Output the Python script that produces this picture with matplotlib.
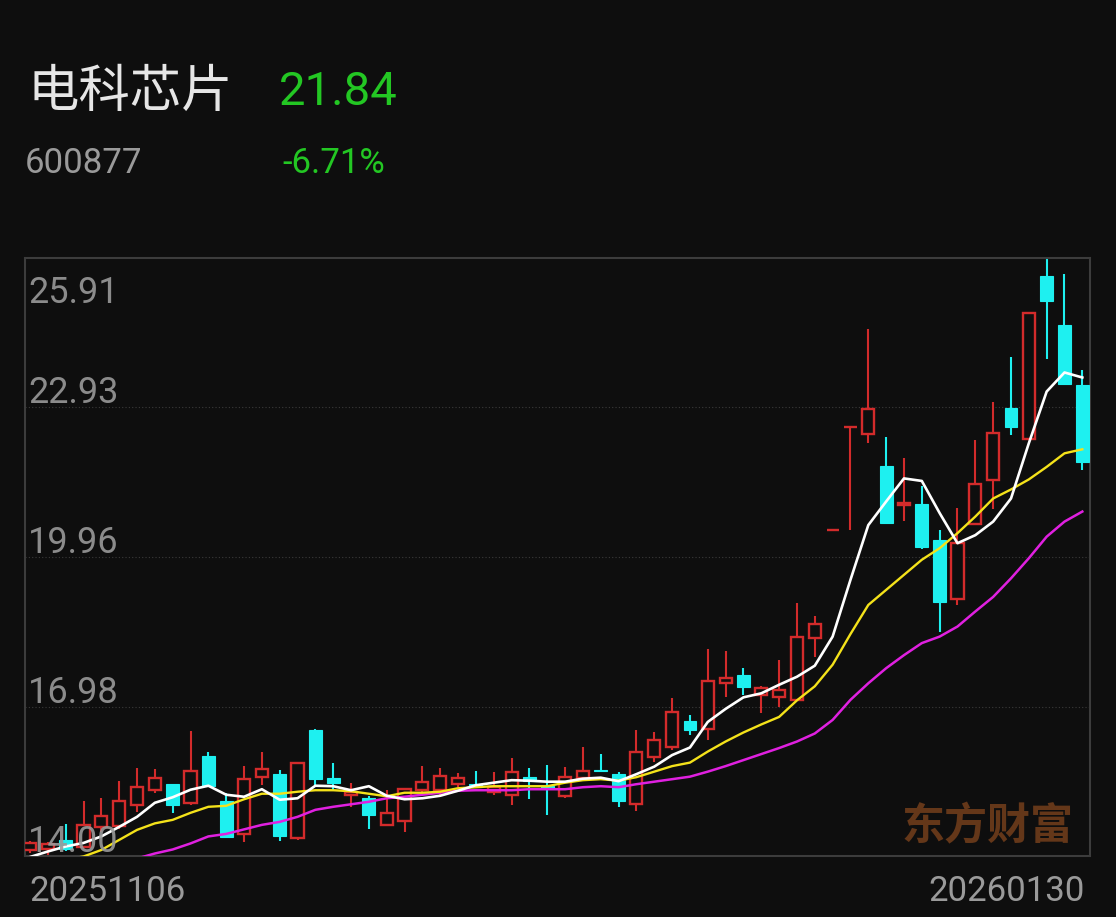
import numpy as np
import matplotlib
matplotlib.use("Agg")
import matplotlib.pyplot as plt
import matplotlib.transforms as mtransforms

# 头部信息
stock_name = "电科芯片"
stock_code = "600877"
last_price = "21.84"
pct_change = "-6.71%"
start_date = "20251106"
end_date = "20260130"
watermark = "东方财富"

# 日K数据 (20251106 - 20260130, 60 个交易日)
opens = [14.11, 14.14, 14.32, 14.18, 14.57, 14.60, 15.02, 15.31, 15.43, 15.05,
         15.99, 15.10, 14.44, 15.57, 15.63, 14.35, 16.51, 15.55, 15.22, 15.15,
         14.61, 14.70, 15.31, 15.31, 15.43, 15.43, 15.28, 15.22, 15.58, 15.39,
         15.20, 15.56, 15.71, 15.63, 15.04, 15.98, 16.17, 16.69, 16.52, 17.44,
         17.61, 17.21, 17.17, 17.11, 18.34, 20.49, 22.54, 22.40, 21.77, 20.99,
         21.02, 20.29, 19.11, 20.61, 21.49, 22.92, 22.30, 25.55, 24.58, 23.38]
highs = [14.30, 14.28, 14.64, 15.10, 15.15, 15.49, 15.75, 15.73, 15.44, 16.49,
         16.07, 15.25, 15.79, 16.07, 15.71, 15.85, 16.52, 15.86, 15.46, 15.20,
         15.31, 15.34, 15.79, 15.75, 15.65, 15.69, 15.68, 15.95, 15.75, 15.81,
         15.78, 16.18, 16.03, 15.68, 16.51, 16.46, 17.14, 16.81, 18.12, 18.09,
         17.74, 17.38, 17.90, 19.03, 18.77, 20.49, 22.54, 24.50, 22.34, 21.92,
         21.36, 20.49, 20.94, 22.29, 23.05, 23.93, 24.81, 25.91, 25.59, 23.68]
lows = [14.06, 14.00, 14.10, 14.16, 14.48, 14.53, 14.88, 15.25, 14.86, 15.02,
        15.38, 14.35, 14.27, 15.41, 14.30, 14.32, 15.41, 15.30, 14.97, 14.53,
        14.59, 14.48, 15.25, 15.22, 15.37, 15.37, 15.22, 15.02, 15.13, 14.81,
        15.15, 15.51, 15.67, 14.98, 14.90, 15.88, 16.11, 16.41, 16.31, 17.17,
        17.21, 16.84, 16.97, 17.10, 17.97, 20.49, 20.49, 22.22, 20.61, 20.68,
        20.11, 18.47, 19.00, 20.60, 20.91, 22.39, 22.30, 23.89, 23.40, 21.69]
closes = [14.25, 14.24, 14.13, 14.62, 14.80, 15.10, 15.38, 15.56, 15.02, 15.70,
          15.39, 14.37, 15.53, 15.73, 14.40, 15.85, 15.53, 15.45, 15.28, 14.82,
          14.85, 15.33, 15.47, 15.59, 15.55, 15.38, 15.38, 15.67, 15.50, 15.35,
          15.57, 15.70, 15.70, 15.10, 16.08, 16.32, 16.87, 16.51, 17.49, 17.55,
          17.37, 17.34, 17.31, 18.37, 18.63, 20.49, 22.54, 22.90, 20.63, 21.04,
          20.16, 19.05, 20.23, 21.40, 22.42, 22.55, 24.81, 25.06, 23.41, 21.84]

# 均线 (从图上读取, 低于 14.00 的部分被裁掉)
ma5 = [13.98, 14.09, 14.19, 14.26, 14.39, 14.58, 14.78, 15.06, 15.17, 15.32,
       15.40, 15.22, 15.18, 15.33, 15.12, 15.15, 15.40, 15.39, 15.31, 15.39,
       15.20, 15.13, 15.15, 15.20, 15.30, 15.41, 15.46, 15.51, 15.50, 15.48,
       15.48, 15.54, 15.56, 15.49, 15.63, 15.78, 16.01, 16.16, 16.67, 16.93,
       17.16, 17.24, 17.41, 17.57, 17.79, 18.37, 19.50, 20.59, 21.06, 21.52,
       21.47, 20.83, 20.23, 20.39, 20.66, 21.12, 22.22, 23.25, 23.63, 23.53]
ma10 = [13.80, 13.86, 13.93, 13.99, 14.12, 14.32, 14.52, 14.65, 14.72, 14.86,
        14.98, 15.00, 15.13, 15.24, 15.24, 15.28, 15.31, 15.31, 15.29, 15.24,
        15.19, 15.26, 15.26, 15.28, 15.35, 15.37, 15.39, 15.39, 15.39, 15.39,
        15.46, 15.51, 15.53, 15.50, 15.57, 15.68, 15.79, 15.86, 16.08, 16.28,
        16.46, 16.62, 16.77, 17.10, 17.38, 17.81, 18.42, 19.00, 19.30, 19.60,
        19.90, 20.13, 20.43, 20.76, 21.12, 21.30, 21.50, 21.75, 22.02, 22.10]
ma20 = [13.66, 13.71, 13.76, 13.80, 13.85, 13.89, 13.95, 14.05, 14.13, 14.25,
        14.39, 14.44, 14.53, 14.62, 14.68, 14.78, 14.92, 14.98, 15.03, 15.08,
        15.15, 15.18, 15.22, 15.26, 15.30, 15.31, 15.31, 15.31, 15.33, 15.33,
        15.33, 15.37, 15.39, 15.37, 15.43, 15.48, 15.53, 15.58, 15.68, 15.79,
        15.91, 16.03, 16.15, 16.28, 16.44, 16.71, 17.11, 17.44, 17.74, 18.00,
        18.24, 18.37, 18.57, 18.87, 19.16, 19.53, 19.93, 20.36, 20.66, 20.86]

y_low, y_high = 14.00, 25.91
tick_labels = ["25.91", "22.93", "19.96", "16.98", "14.00"]

BG = "#0e0e0e"
RED = "#d32b2b"
CYAN = "#1ef0f0"
GREEN = "#23c723"
GRAY = "#9a9a9a"
CJK = ["Noto Sans CJK SC", "DejaVu Sans"]
NUM = ["Roboto", "DejaVu Sans"]

fig = plt.figure(figsize=(11.16, 9.17), dpi=100, facecolor=BG)
W, H = 1116, 917


def fx(px):
    return px / W


def fy(py):
    return 1 - py / H


# 头部文字
fig.text(fx(27), fy(107), stock_name, color="#e6e6e6", fontsize=37,
         family=CJK, va="baseline", ha="left")
fig.text(fx(279), fy(105), last_price, color=GREEN, fontsize=34,
         family=NUM, va="baseline", ha="left")
fig.text(fx(25), fy(173), stock_code, color=GRAY, fontsize=25,
         family=NUM, va="baseline", ha="left")
fig.text(fx(282), fy(173), pct_change, color=GREEN, fontsize=25,
         family=NUM, va="baseline", ha="left")

# K线区域
ax = fig.add_axes([fx(25), fy(856), fx(1090 - 25), (856 - 258) / H])
ax.set_facecolor(BG)
n = len(closes)
x = np.arange(n)
o = np.array(opens)
c = np.array(closes)
h = np.array(highs)
lo = np.array(lows)
up = c >= o

ax.vlines(x[up], lo[up], h[up], color=RED, lw=1.5, zorder=2)
ax.vlines(x[~up], lo[~up], h[~up], color=CYAN, lw=1.5, zorder=2)
ax.bar(x[up], c[up] - o[up], bottom=o[up], width=0.68, facecolor=BG,
       edgecolor=RED, linewidth=1.7, zorder=3)
ax.bar(x[~up], c[~up] - o[~up], bottom=o[~up], width=0.72, facecolor=CYAN,
       edgecolor=CYAN, linewidth=0.8, zorder=3)

ax.plot(x, ma20, color="#e020e0", lw=1.8, zorder=4)
ax.plot(x, ma10, color="#f4e21a", lw=1.7, zorder=4)
ax.plot(x, ma5, color="#ffffff", lw=1.9, zorder=5)

ax.set_xlim(-0.28, n - 0.57)
ax.set_ylim(y_low, y_high)
ticks = np.linspace(y_high, y_low, len(tick_labels))
for t in ticks[1:-1]:
    ax.axhline(t, color="#3a3a3a", lw=0.8, linestyle=(0, (1, 2)), zorder=1)

ax.set_xticks([])
ax.set_yticks([])
for s in ax.spines.values():
    s.set_color("#3c3c3c")
    s.set_linewidth(1.5)

# 纵轴刻度文字 (画在图内)
base = ax.get_yaxis_transform()
for i, (t, lab) in enumerate(zip(ticks, tick_labels)):
    if i == 0:
        tr = mtransforms.offset_copy(base, fig=fig, x=3, y=-17, units="dots")
        va = "top"
    else:
        tr = mtransforms.offset_copy(base, fig=fig, x=3, y=4, units="dots")
        va = "baseline"
    ax.text(0, t, lab, transform=tr, color=GRAY, fontsize=26, family=NUM,
            va=va, ha="left", alpha=0.9, zorder=10)

# 水印
fig.text(fx(1074), fy(839), watermark, color="#643719", fontsize=31,
         family=CJK, fontweight="bold", va="baseline", ha="right", zorder=1)

# 起止日期
fig.text(fx(29), fy(901), start_date, color=GRAY, fontsize=25,
         family=NUM, va="baseline", ha="left")
fig.text(fx(1085), fy(901), end_date, color=GRAY, fontsize=25,
         family=NUM, va="baseline", ha="right")

fig.savefig("out.png", dpi=100, facecolor=BG)
